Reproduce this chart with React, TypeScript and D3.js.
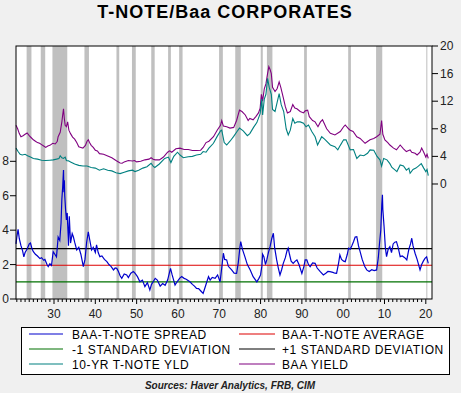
import React from 'react';
import * as d3 from 'd3';

const W = 461;
const H = 393;

// Spread (BAA - 10yr T-note), left axis, %
const spread: [number, number][] = [
  [1920.8, 3.2], [1921.0, 3.6], [1921.3, 4.05], [1921.6, 3.5], [1922.0, 3.1], [1922.4, 2.8], [1922.7, 2.45],
  [1923.0, 2.7], [1923.5, 2.9], [1924.0, 3.2], [1924.3, 3.25], [1924.7, 2.9], [1925.0, 2.75], [1925.5, 2.6],
  [1926.0, 2.5], [1926.6, 2.35], [1927.0, 2.4], [1927.5, 2.25], [1927.8, 2.3], [1928.3, 2.0], [1928.6, 1.88],
  [1929.0, 2.05], [1929.4, 1.95], [1929.8, 2.75], [1930.2, 2.6], [1930.6, 2.45], [1930.9, 3.3], [1931.0, 3.6],
  [1931.4, 3.4], [1931.7, 4.4], [1931.9, 5.8], [1932.1, 6.5], [1932.3, 7.5], [1932.4, 6.2], [1932.5, 6.9],
  [1932.6, 6.0], [1932.8, 5.2], [1933.0, 4.6], [1933.2, 5.0], [1933.5, 3.1], [1933.7, 4.8], [1934.0, 3.25],
  [1934.4, 3.8], [1934.7, 3.6], [1935.0, 3.3], [1935.5, 2.85], [1936.0, 3.0], [1936.5, 2.6], [1937.1, 1.88],
  [1937.5, 2.3], [1937.9, 3.3], [1938.3, 3.9], [1938.6, 3.5], [1939.1, 2.85], [1939.5, 3.0], [1940.0, 2.7],
  [1940.3, 3.15], [1940.7, 2.7], [1941.1, 2.46], [1941.6, 2.5], [1942.2, 2.3], [1942.8, 2.17], [1943.3, 2.0],
  [1943.8, 1.9], [1944.4, 1.69], [1944.8, 1.8], [1945.2, 1.78], [1945.6, 1.6], [1946.0, 1.35], [1946.4, 1.2],
  [1947.0, 1.45], [1947.6, 1.4], [1948.0, 1.25], [1948.6, 1.5], [1949.2, 1.6], [1949.6, 1.5], [1950.2, 1.3],
  [1950.8, 1.0], [1951.4, 1.1], [1952.0, 0.72], [1952.6, 0.95], [1953.2, 0.52], [1953.6, 0.85], [1954.0, 1.0],
  [1954.5, 1.2], [1955.0, 1.1], [1955.7, 0.75], [1956.3, 0.9], [1956.9, 0.8], [1957.5, 1.1], [1958.2, 1.78],
  [1958.6, 1.4], [1959.3, 0.81], [1959.8, 1.0], [1960.4, 1.2], [1960.9, 1.3], [1961.5, 1.2], [1962.0, 1.15],
  [1962.9, 1.0], [1963.5, 0.85], [1964.0, 0.75], [1964.5, 0.62], [1965.0, 0.6], [1965.6, 0.45], [1966.1, 0.33],
  [1966.6, 0.7], [1967.0, 1.0], [1967.4, 1.3], [1967.8, 1.1], [1968.3, 1.25], [1969.0, 1.2], [1969.6, 1.4],
  [1970.2, 1.0], [1970.6, 1.8], [1971.0, 2.66], [1971.3, 2.3], [1971.8, 2.27], [1972.2, 1.9], [1973.0, 1.69],
  [1973.6, 1.5], [1974.2, 1.49], [1974.6, 2.1], [1975.0, 3.0], [1975.2, 3.33], [1975.6, 2.9], [1976.2, 2.46],
  [1976.8, 2.0], [1977.5, 1.69], [1978.2, 1.3], [1979.1, 1.0], [1979.6, 1.2], [1980.0, 1.4], [1980.3, 1.88],
  [1980.5, 2.6], [1980.8, 2.46], [1981.2, 2.0], [1981.5, 2.27], [1981.9, 2.7], [1982.3, 3.04], [1982.7, 3.5],
  [1983.1, 3.82], [1983.4, 3.0], [1983.9, 2.27], [1984.3, 1.8], [1984.7, 1.4], [1985.1, 1.7], [1985.5, 2.07],
  [1986.0, 2.4], [1986.4, 2.8], [1986.7, 2.95], [1987.0, 2.6], [1987.4, 2.2], [1987.9, 2.07], [1988.4, 2.2],
  [1988.8, 2.27], [1989.3, 2.0], [1990.0, 1.49], [1990.5, 1.9], [1990.8, 2.27], [1991.2, 2.27], [1991.6, 2.0],
  [1992.0, 1.88], [1992.6, 2.1], [1993.2, 2.07], [1993.7, 1.8], [1994.4, 1.6], [1995.2, 1.4], [1995.8, 1.5],
  [1996.3, 1.6], [1996.8, 1.59], [1997.5, 1.55], [1998.0, 1.5], [1998.4, 1.49], [1998.9, 2.1], [1999.2, 2.56],
  [1999.6, 2.3], [2000.1, 2.2], [2000.5, 2.17], [2001.0, 2.6], [2001.3, 2.95], [2001.7, 2.9], [2002.1, 3.1],
  [2002.5, 3.33], [2002.9, 3.6], [2003.3, 3.62], [2003.7, 3.1], [2004.1, 2.75], [2004.6, 2.3], [2005.2, 1.9],
  [2005.7, 1.69], [2006.3, 1.6], [2006.9, 1.7], [2007.5, 1.65], [2008.1, 1.69], [2008.5, 2.4], [2008.8, 3.24],
  [2009.1, 4.0], [2009.35, 5.5], [2009.5, 6.05], [2009.6, 5.2], [2009.9, 4.2], [2010.2, 3.0], [2010.5, 2.46],
  [2010.9, 2.9], [2011.3, 3.04], [2011.7, 2.7], [2012.1, 3.2], [2012.5, 3.3], [2012.9, 3.33], [2013.3, 3.0],
  [2013.8, 2.46], [2014.3, 2.5], [2014.9, 2.4], [2015.4, 2.27], [2015.9, 2.9], [2016.3, 3.2], [2016.6, 3.53],
  [2016.9, 3.1], [2017.4, 2.66], [2017.9, 2.3], [2018.6, 1.69], [2019.0, 2.0], [2019.4, 2.2], [2019.8, 2.36],
  [2020.2, 2.45], [2020.6, 2.07],
];

// BAA yield, right axis, %
const baaYield: [number, number][] = [
  [1920.8, 8.5], [1921.2, 8.0], [1921.6, 7.3], [1922.0, 6.85], [1922.5, 7.0], [1923.0, 7.2], [1923.5, 7.4],
  [1924.0, 7.0], [1924.5, 6.7], [1925.0, 6.4], [1925.5, 6.2], [1926.0, 6.0], [1926.5, 5.9], [1927.0, 5.7],
  [1927.5, 5.5], [1928.0, 5.3], [1928.5, 5.5], [1929.0, 5.6], [1929.7, 5.9], [1930.3, 5.8], [1930.8, 6.2],
  [1931.0, 6.85], [1931.5, 7.5], [1931.9, 9.0], [1932.1, 10.0], [1932.3, 10.9], [1932.5, 9.5], [1932.7, 8.5],
  [1933.0, 8.3], [1933.3, 9.0], [1933.6, 7.8], [1934.0, 7.3], [1934.5, 6.8], [1935.0, 6.5], [1935.5, 6.0],
  [1936.0, 5.4], [1936.5, 5.3], [1937.0, 5.2], [1937.6, 5.6], [1938.0, 6.2], [1938.3, 6.4], [1938.6, 6.0],
  [1939.0, 5.6], [1939.5, 5.3], [1940.0, 4.9], [1940.5, 4.8], [1941.0, 4.4], [1942.0, 4.3], [1943.0, 4.06],
  [1944.0, 3.8], [1945.0, 3.4], [1946.0, 3.05], [1946.5, 3.0], [1947.0, 3.2], [1948.0, 3.4], [1949.0, 3.33],
  [1949.5, 3.4], [1950.0, 3.2], [1951.0, 3.3], [1952.0, 3.5], [1953.0, 3.6], [1953.5, 3.8], [1954.0, 3.6],
  [1954.5, 3.5], [1955.5, 3.5], [1956.5, 3.9], [1957.5, 4.6], [1958.0, 4.8], [1958.5, 4.6], [1959.5, 5.1],
  [1960.5, 5.2], [1961.5, 5.0], [1962.5, 5.0], [1963.5, 4.85], [1964.5, 4.85], [1965.5, 4.9], [1966.1, 5.3],
  [1966.8, 6.0], [1967.5, 6.2], [1968.6, 6.85], [1969.5, 7.8], [1970.3, 8.5], [1970.6, 9.2], [1971.0, 8.4],
  [1971.8, 8.3], [1972.6, 8.1], [1973.5, 8.2], [1974.2, 9.2], [1974.9, 10.7], [1975.5, 10.5], [1976.3, 10.0],
  [1977.0, 9.2], [1977.4, 9.5], [1978.2, 9.3], [1978.9, 9.8], [1979.5, 10.3], [1979.9, 11.0], [1980.2, 13.0],
  [1980.5, 12.0], [1980.9, 13.8], [1981.3, 14.5], [1981.7, 16.0], [1982.0, 17.0], [1982.3, 16.6], [1982.6, 16.0],
  [1982.9, 14.0], [1983.5, 13.4], [1984.0, 13.8], [1984.5, 14.8], [1984.9, 14.0], [1985.5, 12.5], [1986.0, 11.2],
  [1986.5, 10.3], [1987.2, 10.5], [1987.8, 11.5], [1988.3, 11.0], [1988.8, 10.9], [1989.6, 10.5], [1990.4, 10.3],
  [1990.8, 10.6], [1991.4, 10.7], [1991.8, 9.75], [1992.6, 9.2], [1993.2, 9.0], [1993.9, 8.3], [1994.5, 9.0],
  [1995.0, 9.3], [1996.0, 8.0], [1996.9, 7.35], [1998.0, 7.1], [1999.3, 7.6], [2000.1, 8.3], [2000.5, 8.55],
  [2001.3, 8.0], [2001.7, 7.8], [2002.4, 7.6], [2003.3, 6.85], [2004.1, 6.6], [2005.3, 5.9], [2006.5, 6.4],
  [2007.4, 6.6], [2008.1, 6.85], [2008.9, 7.2], [2009.3, 9.2], [2009.6, 7.2], [2010.1, 6.4], [2010.8, 6.0],
  [2011.3, 5.65], [2012.2, 5.2], [2012.9, 4.95], [2013.8, 5.65], [2014.6, 5.1], [2015.3, 4.7], [2016.2, 4.95],
  [2016.6, 4.6], [2017.4, 4.45], [2017.9, 4.2], [2018.6, 4.6], [2019.0, 5.2], [2019.5, 4.6], [2020.0, 3.9],
  [2020.3, 4.3], [2020.6, 3.7],
];

// 10-yr T-note yield, right axis, %
const tnoteYield: [number, number][] = [
  [1920.8, 5.2], [1921.3, 4.7], [1921.8, 4.3], [1922.3, 4.2], [1923.0, 4.3], [1923.6, 4.1], [1924.3, 3.9],
  [1925.0, 3.7], [1926.0, 3.6], [1927.0, 3.45], [1928.0, 3.4], [1929.0, 3.45], [1929.8, 3.5], [1930.6, 3.6],
  [1931.2, 3.7], [1931.5, 4.1], [1931.9, 3.8], [1932.3, 3.7], [1932.7, 3.9], [1933.0, 3.4], [1933.5, 3.35],
  [1934.0, 3.2], [1935.0, 2.9], [1936.0, 2.7], [1937.0, 2.6], [1938.0, 2.6], [1939.0, 2.4], [1940.0, 2.3],
  [1941.0, 2.0], [1942.0, 2.2], [1943.0, 2.0], [1944.0, 1.9], [1945.0, 1.64], [1946.0, 1.5], [1947.0, 1.7],
  [1948.0, 1.9], [1949.0, 2.0], [1949.6, 1.8], [1950.5, 2.0], [1951.5, 2.3], [1952.5, 2.5], [1953.5, 3.0],
  [1954.0, 2.6], [1954.4, 2.4], [1955.5, 2.9], [1956.8, 3.7], [1957.7, 3.9], [1958.3, 3.1], [1959.0, 4.0],
  [1959.9, 4.6], [1960.5, 4.2], [1961.3, 3.8], [1962.5, 3.95], [1963.5, 4.0], [1964.5, 4.2], [1965.5, 4.3],
  [1966.1, 4.7], [1966.8, 4.6], [1967.5, 5.2], [1968.6, 5.9], [1969.5, 6.9], [1970.3, 7.7], [1970.6, 7.8],
  [1971.2, 6.0], [1971.8, 5.65], [1972.6, 6.2], [1973.5, 6.9], [1974.3, 7.6], [1974.9, 8.1], [1975.8, 7.7],
  [1976.8, 7.0], [1977.4, 7.3], [1978.3, 8.2], [1979.1, 8.9], [1979.9, 10.2], [1980.3, 12.3], [1980.5, 10.0],
  [1980.9, 12.3], [1981.3, 13.0], [1981.7, 15.3], [1982.1, 14.0], [1982.6, 13.0], [1982.9, 10.8], [1983.5, 10.5],
  [1984.0, 11.8], [1984.5, 13.1], [1985.0, 11.5], [1985.6, 10.5], [1986.2, 8.0], [1986.7, 7.1], [1987.2, 7.8],
  [1987.8, 9.5], [1988.3, 8.8], [1988.9, 9.0], [1989.6, 9.0], [1990.4, 8.8], [1991.0, 8.3], [1991.6, 8.55],
  [1992.4, 7.6], [1993.2, 6.85], [1993.8, 5.65], [1994.8, 6.85], [1995.5, 6.5], [1996.9, 5.65], [1998.0, 5.4],
  [1998.7, 4.95], [1999.3, 5.6], [2000.1, 6.4], [2000.7, 6.4], [2001.7, 4.95], [2002.5, 5.0], [2003.3, 3.7],
  [2004.1, 4.2], [2005.0, 4.1], [2005.9, 4.45], [2006.5, 4.95], [2007.4, 4.9], [2008.2, 4.0], [2008.9, 3.5],
  [2009.3, 2.6], [2009.8, 3.7], [2010.6, 3.5], [2011.3, 2.95], [2011.8, 2.4], [2012.6, 2.0], [2013.0, 1.8],
  [2013.8, 2.75], [2014.6, 2.6], [2015.3, 2.0], [2015.9, 2.3], [2016.2, 1.55], [2016.9, 2.1], [2017.6, 2.3],
  [2018.2, 2.6], [2018.9, 2.95], [2019.5, 2.3], [2020.0, 1.8], [2020.3, 2.1], [2020.6, 1.2],
];

const spreadAverage = 1.96;
const spreadStdDev = 0.97;

const recessions: [number, number][] = [
  [1923.37, 1924.54], [1926.79, 1927.87], [1929.62, 1933.21], [1937.37, 1938.46], [1945.12, 1945.79],
  [1948.87, 1949.79], [1953.54, 1954.37], [1957.62, 1958.29], [1960.29, 1961.12], [1969.96, 1970.87],
  [1973.87, 1975.21], [1980.04, 1980.54], [1981.54, 1982.87], [1990.54, 1991.21], [2001.21, 2001.87],
  [2007.96, 2009.46], [2020.12, 2020.37],
];

const leftTicks = [0, 2, 4, 6, 8];
const rightTicks = [0, 4, 8, 12, 16, 20];
const decadeTicks = [1930, 1940, 1950, 1960, 1970, 1980, 1990, 2000, 2010, 2020];

const legendLeft = [
  { label: 'BAA-T-NOTE SPREAD', color: '#0000cc' },
  { label: '-1 STANDARD DEVIATION', color: '#007000' },
  { label: '10-YR T-NOTE YLD', color: '#008080' },
];
const legendRight = [
  { label: 'BAA-T-NOTE AVERAGE', color: '#dd0000' },
  { label: '+1 STANDARD DEVIATION', color: '#000000' },
  { label: 'BAA YIELD', color: '#800080' },
];

const FONT = '"Liberation Sans", Arial, sans-serif';

export default function App() {
  const L = 16, R = 432, T = 46, B = 299;
  const x = d3.scaleLinear().domain([1920.8, 2021.5]).range([L, R]);
  const yL = d3.scaleLinear().domain([0, 14.7]).range([B, T]);
  const yR = d3.scaleLinear().domain([-16.67, 20]).range([B, T]);

  const lineL = d3.line<[number, number]>().x(d => x(d[0])).y(d => yL(d[1]));
  const lineR = d3.line<[number, number]>().x(d => x(d[0])).y(d => yR(d[1]));

  const years = d3.range(1921, 2021);
  const hLines = [
    { v: spreadAverage, color: '#dd0000' },
    { v: spreadAverage - spreadStdDev, color: '#007000' },
    { v: spreadAverage + spreadStdDev, color: '#000000' },
  ];

  return (
    <svg width={W} height={H} style={{ position: 'absolute', left: 0, top: 0, background: '#f0f0f0' }} fontFamily={FONT}>
      <rect x={0} y={0} width={W} height={H} fill="#f0f0f0" />
      <text x={225} y={18} textAnchor="middle" fontSize={18} fontWeight="bold" letterSpacing={1} fill="#000">
        T-NOTE/Baa CORPORATES
      </text>
      <rect x={L} y={T} width={R - L} height={B - T} fill="#fff" />
      {recessions.map(([a, b], i) => (
        <rect key={i} x={x(a)} y={T} width={Math.max(1, x(b) - x(a))} height={B - T} fill="#c0c0c0" />
      ))}
      {hLines.map((h, i) => (
        <line key={i} x1={L} x2={R} y1={yL(h.v)} y2={yL(h.v)} stroke={h.color} strokeWidth={1.2} />
      ))}
      <path d={lineR(baaYield) || ''} fill="none" stroke="#800080" strokeWidth={1.1} />
      <path d={lineR(tnoteYield) || ''} fill="none" stroke="#008080" strokeWidth={1.1} />
      <path d={lineL(spread) || ''} fill="none" stroke="#0000cc" strokeWidth={1.2} />
      <rect x={L} y={T} width={R - L} height={B - T} fill="none" stroke="#000" strokeWidth={1} />
      {leftTicks.map(t => (
        <g key={t}>
          <line x1={L - 6} x2={L} y1={yL(t)} y2={yL(t)} stroke="#000" />
          <text x={9} y={yL(t) + 4} textAnchor="end" fontSize={12} fill="#222">{t}</text>
        </g>
      ))}
      {rightTicks.map(t => (
        <g key={t}>
          <line x1={R} x2={R + 6} y1={yR(t)} y2={yR(t)} stroke="#000" />
          <text x={440} y={yR(t) + 4} textAnchor="start" fontSize={12} fill="#222">{t}</text>
        </g>
      ))}
      {years.map(yr => (
        <line key={yr} x1={x(yr)} x2={x(yr)} y1={B} y2={B + (yr % 10 === 0 ? 5 : 3)} stroke="#000" />
      ))}
      {decadeTicks.map(yr => (
        <text key={yr} x={x(yr)} y={318} textAnchor="middle" fontSize={12} fill="#222">
          {d3.format('02d')(yr % 100)}
        </text>
      ))}
      <rect x={21.5} y={327.5} width={428} height={47} fill="#fff" stroke="#000" strokeWidth={1} />
      {legendLeft.map((d, i) => (
        <g key={d.label}>
          <line x1={29} x2={63} y1={334 + i * 15} y2={334 + i * 15} stroke={d.color} strokeWidth={1.2} />
          <text x={72} y={338.5 + i * 15} fontSize={12} letterSpacing={0.6} fill="#000">{d.label}</text>
        </g>
      ))}
      {legendRight.map((d, i) => (
        <g key={d.label}>
          <line x1={239} x2={275} y1={334 + i * 15} y2={334 + i * 15} stroke={d.color} strokeWidth={1.2} />
          <text x={282} y={338.5 + i * 15} fontSize={12} letterSpacing={0.6} fill="#000">{d.label}</text>
        </g>
      ))}
      <text x={230} y={389} textAnchor="middle" fontSize={10} fontWeight="bold" fontStyle="italic" fill="#222">
        Sources:  Haver Analytics, FRB, CIM
      </text>
    </svg>
  );
}
